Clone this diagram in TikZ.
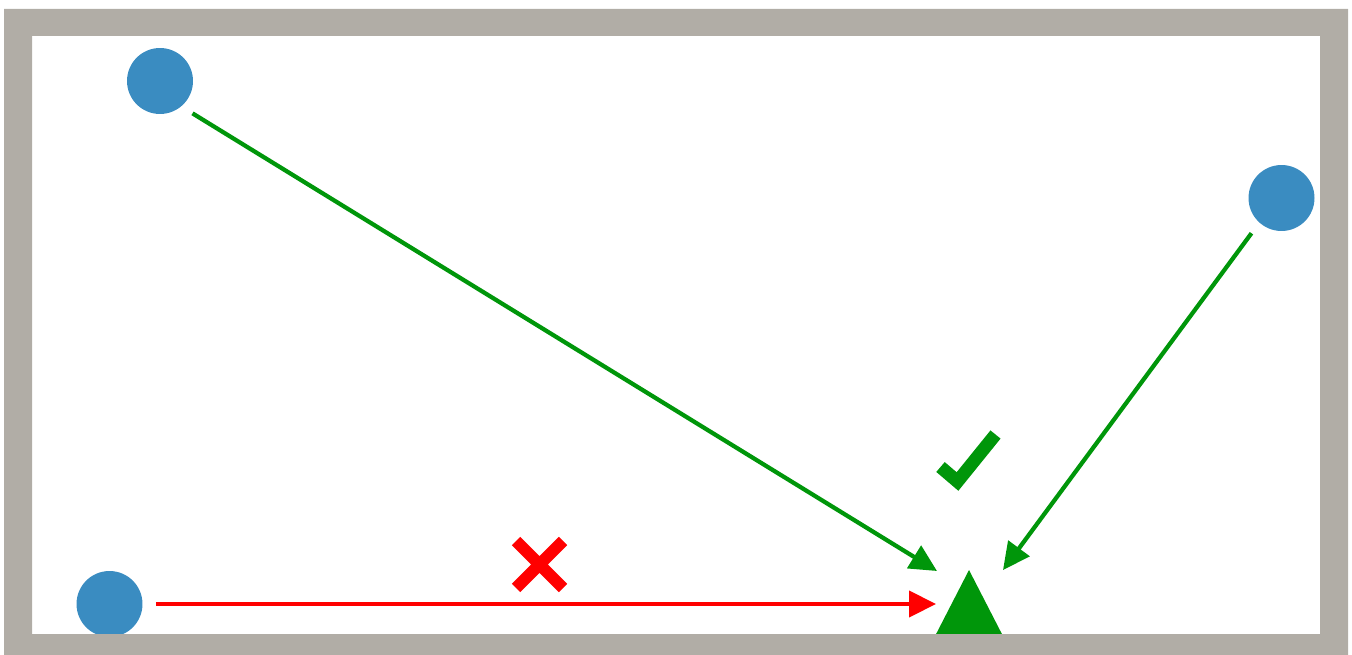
\documentclass[tikz,border=0pt]{standalone}
\definecolor{dotblue}{HTML}{3A8CC1}
\definecolor{okgreen}{HTML}{00960A}
\definecolor{badred}{HTML}{FF0000}
\definecolor{framegrey}{HTML}{B1ADA6}
\usepackage{tikz}
\usetikzlibrary{arrows.meta}
\tikzset{
  dot/.style={circle,fill=dotblue,minimum size=1.32cm,inner sep=0pt},
  arr_ok/.style={-{Triangle[length=0.54cm,width=0.52cm]},draw=okgreen,line width=0.085cm,shorten <=0.26cm},
  arr_bad/.style={-{Triangle[length=0.54cm,width=0.52cm]},draw=badred,line width=0.085cm,shorten <=0.26cm},
  tick_ok/.style={draw=okgreen,line width=0.26cm},
  cross_bad/.style={draw=badred,line width=0.24cm},
}

\begin{document}
\begin{tikzpicture}[x=0.02cm,y=-0.02cm]
    \useasboundingbox (0,0) rectangle (1352,655);
    % senders
    \node[dot] (topdot) at (160,81) {};
    \node[dot] (rightdot) at (1281.5,198) {};
    \node[dot] (lowdot) at (109.5,604) {};
    % receiver
    \fill[okgreen] (969,570) -- (1005,640) -- (933,640) -- cycle;
    \coordinate (hitA) at (937,571);
    \coordinate (hitB) at (1003,570);
    \coordinate (hitC) at (936,604);
    \draw[arr_ok](topdot.-50)--(hitA);\draw[arr_ok](rightdot.-132)--(hitB);\draw[arr_bad](lowdot.0)--(hitC);
    % marks
    \draw[tick_ok] (940.5,467) -- (957.5,481.5) -- (995.5,434.5);
    \draw[cross_bad] (516,541) -- (563,588) (516,588) -- (563,541);
    % frame
    \fill[framegrey,even odd rule] (4,9) rectangle (1348,655) (32,36) rectangle (1320,634);
  \end{tikzpicture}
\end{document}
